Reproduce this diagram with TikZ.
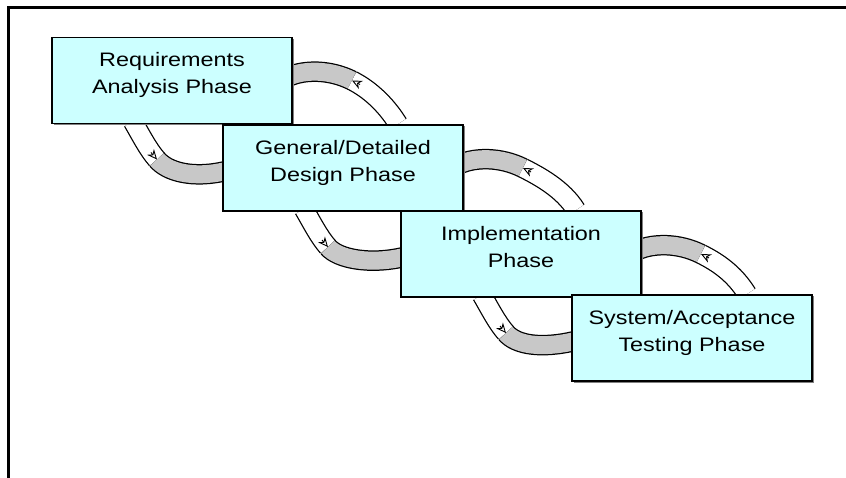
\documentclass[tikz,border=0pt]{standalone}
\usepackage{fontspec}
\setmainfont{Liberation Sans}[FakeStretch=1.2]
\usetikzlibrary{arrows.meta,calc,positioning,shadows,backgrounds}

\definecolor{phasecyan}{HTML}{CCFFFF}
\definecolor{ribbongray}{HTML}{C8C8C8}

\begin{document}
\begin{tikzpicture}[x=1pt,y=-1pt,
    phase/.style={rectangle,draw,line width=1.4pt,fill=phasecyan,outer sep=0pt,
      minimum width=240pt,minimum height=86pt,align=center,
      font=\fontsize{19.5}{27}\selectfont,
      execute at end node={\rule[-15pt]{0pt}{0pt}},
      drop shadow={shadow xshift=1.5pt,shadow yshift=-1.5pt,fill=gray,opacity=1}},
    ribbon/.style={line width=18pt,
      preaction={draw=black,line width=20.5pt,shorten <=0pt,shorten >=0pt}},
    front/.style={ribbon,draw=white},
    back/.style={ribbon,draw=ribbongray},
    twist/.style={line width=0.9pt,-{Stealth[length=10pt,width=9pt,fill=white]}}]

    \useasboundingbox (0,0) rectangle (846,478);
    \draw[line width=3pt] (846,8) -- (8,8) -- (8,478);

    \node[phase] (req) at (172,80.5) {Requirements\\Analysis Phase};
    \node[phase,below right=1.5pt and -69pt of req] (des) {General/Detailed\\Design Phase};
    \node[phase,below right=0pt and -62pt of des] (imp) {Implementation\\Phase};
    \node[phase,below right=-2pt and -69pt of imp] (tst) {System/Acceptance\\Testing Phase};

    % forward ribbons: bottom of a phase to the left side of the next one
    \coordinate (f1s) at ($(req.south west)+(81,-2)$);
    \coordinate (f1m) at ($(req.south west)+(105,36)$);
    \coordinate (f1e) at ($(des.west)+(3,3)$);
    \coordinate (f2s) at ($(des.south west)+(81,-2)$);
    \coordinate (f2m) at ($(des.south west)+(105,36)$);
    \coordinate (f2e) at ($(imp.west)+(3,3)$);
    \coordinate (f3s) at ($(imp.south west)+(81,-2)$);
    \coordinate (f3m) at ($(imp.south west)+(105,36)$);
    \coordinate (f3e) at ($(tst.west)+(3,3)$);

    % feedback ribbons: top of a phase back to the right side of the one before
    \coordinate (b1s) at ($(req.east)+(-3,-4)$);
    \coordinate (b1m) at ($(req.east)+(60,0)$);
    \coordinate (b1e) at ($(des.north west)+(175,-1)$);
    \coordinate (b2s) at ($(des.east)+(-3,-4)$);
    \coordinate (b2m) at ($(des.east)+(60,0)$);
    \coordinate (b2e) at ($(imp.north west)+(175,-1)$);
    \coordinate (b3s) at ($(imp.east)+(-3,-4)$);
    \coordinate (b3m) at ($(imp.east)+(60,0)$);
    \coordinate (b3e) at ($(tst.north west)+(175,-1)$);

    \begin{scope}[on background layer]
    \draw[front] (f1s) .. controls +(7,12) and +(-9,-10) .. (f1m);
    \draw[back] (f1m) .. controls +(10,12) and +(-34,8) .. (f1e);
    \draw[front] (f2s) .. controls +(7,12) and +(-9,-10) .. (f2m);
    \draw[back] (f2m) .. controls +(10,12) and +(-34,8) .. (f2e);
    \draw[front] (f3s) .. controls +(7,12) and +(-9,-10) .. (f3m);
    \draw[back] (f3m) .. controls +(10,12) and +(-34,8) .. (f3e);

    \draw[back] (b1s) .. controls +(16,-7) and +(-22,-11) .. (b1m);
    \draw[front] (b1m) .. controls +(16,8) and +(-13,-21) .. (b1e);
    \draw[back] (b2s) .. controls +(16,-7) and +(-22,-11) .. (b2m);
    \draw[front] (b2m) .. controls +(16,8) and +(-13,-21) .. (b2e);
    \draw[back] (b3s) .. controls +(16,-7) and +(-22,-11) .. (b3m);
    \draw[front] (b3m) .. controls +(16,8) and +(-13,-21) .. (b3e);

    \draw[twist] ($(f1m)+(-6,-7)$) -- (f1m);
    \draw[twist] ($(f2m)+(-6,-7)$) -- (f2m);
    \draw[twist] ($(f3m)+(-6,-7)$) -- (f3m);
    \draw[twist] ($(b1m)+(8,4)$) -- (b1m);
    \draw[twist] ($(b2m)+(8,4)$) -- (b2m);
    \draw[twist] ($(b3m)+(8,4)$) -- (b3m);
    \end{scope}
\end{tikzpicture}
\end{document}
